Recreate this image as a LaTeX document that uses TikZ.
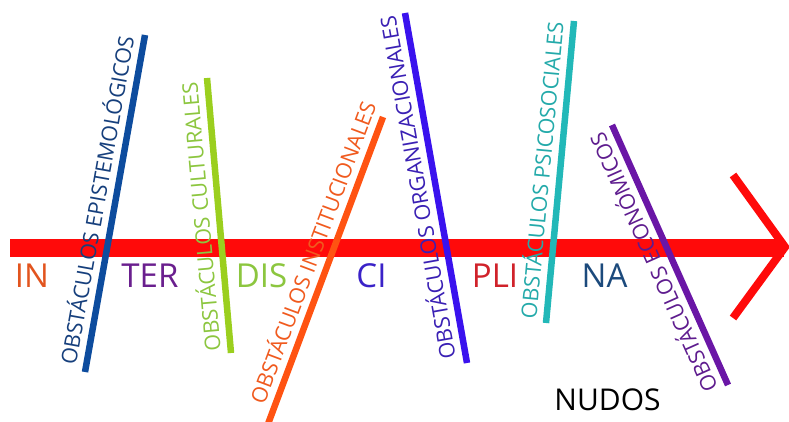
\documentclass[tikz,border=0pt]{standalone}
\usepackage{fontspec}
\setmainfont{Open Sans}
\definecolor{spinered}{HTML}{FF0A0A}
\definecolor{inc}{HTML}{E2541E}
\definecolor{terc}{HTML}{6A1F8E}
\definecolor{disc}{HTML}{8CC63F}
\definecolor{cic}{HTML}{3A22C8}
\definecolor{plic}{HTML}{D0222A}
\definecolor{nac}{HTML}{1C4A7C}
\definecolor{epiline}{HTML}{0D4C9E}
\definecolor{epitext}{HTML}{163F7C}
\definecolor{culline}{HTML}{9BCF1E}
\definecolor{cultext}{HTML}{8CC63F}
\definecolor{insline}{HTML}{FF5312}
\definecolor{instext}{HTML}{F05A1E}
\definecolor{orgline}{HTML}{3A12EE}
\definecolor{orgtext}{HTML}{3A20B4}
\definecolor{psiline}{HTML}{22B8B8}
\definecolor{psitext}{HTML}{24AAAA}
\definecolor{ecoline}{HTML}{6A16A6}
\definecolor{ecotext}{HTML}{5E1C8E}
\begin{document}
\begin{tikzpicture}[x=1pt,y=-1pt,
  spine/.style={draw=spinered,line width=18pt},
  arrowtip/.style={draw=spinered,line width=8pt,miter limit=10},
  obstacle/.style={line width=6.5pt},
  obstlabel/.style={sloped,allow upside down,anchor=south,yshift=6.5pt,inner sep=0pt,
    font=\fontsize{21.5}{24}\selectfont},
  syllable/.style={anchor=base,inner sep=0pt,font=\fontsize{33}{36}\selectfont}]
\useasboundingbox (0,0) rectangle (789,422);

% main spine with its open arrow tip
\coordinate (spineL) at (10,247.5);
\coordinate (spineR) at (784,247.5);
\coordinate (tipT) at (733,175);
\coordinate (tipA) at (785,247);
\coordinate (tipB) at (733,318);
\draw[spine] (spineL) -- (spineR);
\draw[arrowtip] (tipT) -- (tipA) -- (tipB);

% syllables under the spine
\node[syllable,text=inc]  (in)  at (32,287)    {IN};
\node[syllable,text=terc] (ter) at (150,287)   {TER};
\node[syllable,text=disc] (dis) at (261.5,287) {DIS};
\node[syllable,text=cic]  (ci)  at (371.5,287) {CI};
\node[syllable,text=plic] (pli) at (495,287)   {PLI};
\node[syllable,text=nac]  (na)  at (604.5,287) {NA};

% obstacles crossing the spine
\coordinate (epiB) at (85,372);  \coordinate (epiT) at (145,35);
\coordinate (culB) at (231,353); \coordinate (culT) at (207,78);
\coordinate (insB) at (265,432); \coordinate (insT) at (383,117);
\coordinate (orgB) at (467,363); \coordinate (orgT) at (405,13);
\coordinate (psiB) at (546,323); \coordinate (psiT) at (574,21);
\coordinate (ecoB) at (728,385); \coordinate (ecoT) at (612,125);

\draw[obstacle,draw=epiline] (epiB) -- node[obstlabel,pos=0.5,text=epitext] (epi) {OBSTÁCULOS EPISTEMOLÓGICOS} (epiT);
\draw[obstacle,draw=culline] (culB) -- node[obstlabel,pos=0.5,text=cultext] (cul) {OBSTÁCULOS CULTURALES} (culT);
\draw[obstacle,draw=insline] (insB) -- node[obstlabel,pos=0.55,text=instext] (ins) {OBSTÁCULOS INSTITUCIONALES} (insT);
\draw[obstacle,draw=orgline] (orgB) -- node[obstlabel,pos=0.51,text=orgtext] (org) {OBSTÁCULOS ORGANIZACIONALES} (orgT);
\draw[obstacle,draw=psiline] (psiB) -- node[obstlabel,pos=0.5,text=psitext] (psi) {OBSTÁCULOS PSICOSOCIALES} (psiT);
\draw[obstacle,draw=ecoline] (ecoB) -- node[obstlabel,pos=0.5,text=ecotext] (eco) {OBSTÁCULOS ECONÓMICOS} (ecoT);

\node[anchor=base,inner sep=0pt,font=\fontsize{30}{33}\selectfont] (nudos) at (607.5,410) {NUDOS};
\end{tikzpicture}
\end{document}
